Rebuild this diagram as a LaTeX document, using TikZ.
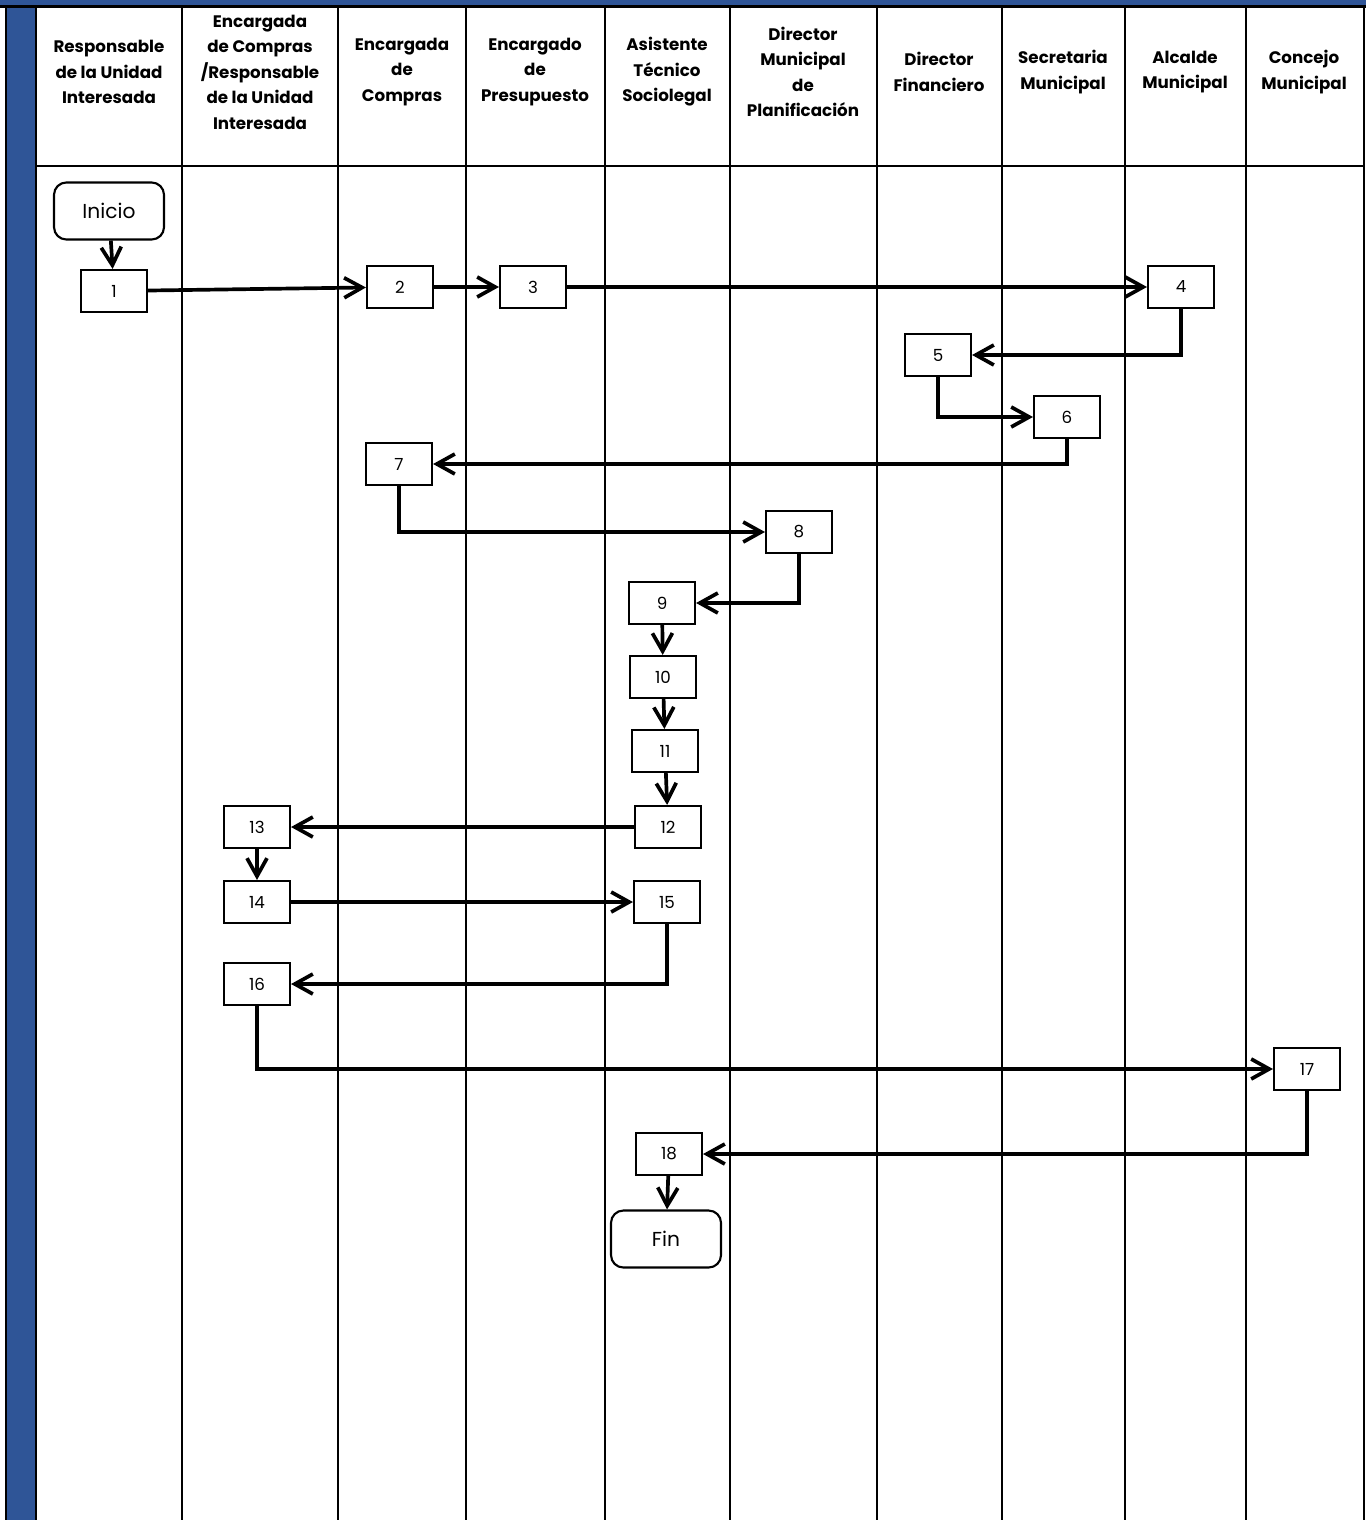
\documentclass[tikz,border=0pt]{standalone}
\usepackage{fontspec}
\setmainfont{Poppins}
\usetikzlibrary{arrows.meta}
\definecolor{laneblue}{RGB}{47,85,151}

\begin{document}
\begin{tikzpicture}[x=0.02cm, y=-0.02cm,
  head/.style={align=center, font=\bfseries\fontsize{9.5}{14.5}\selectfont},
  act/.style={draw, line width=1.2pt, minimum width=1.32cm, minimum height=0.84cm, inner sep=0pt, font=\fontsize{9.5}{11}\selectfont},
  term/.style={draw, rounded corners=7pt, line width=1.2pt, minimum width=2.2cm, minimum height=1.14cm, inner sep=0pt, font=\fontsize{11.5}{13}\selectfont},
  lane/.style={line width=1.2pt},
  arr/.style={-{Straight Barb[length=3.6mm, width=4mm]}, line width=2.1pt}]
\useasboundingbox (0,0) rectangle (1366,1520);
% frame and blue band
\fill[laneblue] (0,0) rectangle (1366,6);
\fill[laneblue] (6,0) rectangle (36,1520);
\draw[lane] (0,6.5) -- (1366,6.5);
\draw[lane] (6,6) -- (6,1520);
\draw[lane] (36,6) -- (36,1520);
\draw[lane] (36,166) -- (1364,166);
\foreach \x in {182,338,466,605,730,877,1002,1125,1246,1364}
  \draw[lane] (\x,6) -- (\x,1520);
% lane headers
\node[head] (h1) at (109,72) {Responsable\\de la Unidad\\Interesada};
\node[head] (h2) at (260,72) {Encargada\\de Compras\\/Responsable\\de la Unidad\\Interesada};
\node[head] (h3) at (402,72) {Encargada\\de\\Compras};
\node[head] (h4) at (535,72) {Encargado\\de\\Presupuesto};
\node[head] (h5) at (667,72) {Asistente\\Técnico\\Sociolegal};
\node[head] (h6) at (803,72) {Director\\Municipal\\de\\Planificación};
\node[head] (h7) at (939,72) {Director\\Financiero};
\node[head] (h8) at (1063,72) {Secretaria\\Municipal};
\node[head] (h9) at (1185,72) {Alcalde\\Municipal};
\node[head] (h10) at (1304,72) {Concejo\\Municipal};
% activities
\node[term] (ini) at (109,211) {Inicio};
\node[act] (n1) at (114,291) {1};
\node[act] (n2) at (400,287) {2};
\node[act] (n3) at (533,287) {3};
\node[act] (n4) at (1181,287) {4};
\node[act] (n5) at (938,355) {5};
\node[act] (n6) at (1067,417) {6};
\node[act] (n7) at (399,464) {7};
\node[act] (n8) at (799,532) {8};
\node[act] (n9) at (662,603) {9};
\node[act] (n10) at (663,677) {10};
\node[act] (n11) at (665,751) {11};
\node[act] (n12) at (668,827) {12};
\node[act] (n13) at (257,827) {13};
\node[act] (n14) at (257,902) {14};
\node[act] (n15) at (667,902) {15};
\node[act] (n16) at (257,984) {16};
\node[act] (n17) at (1307,1069) {17};
\node[act] (n18) at (669,1154) {18};
\node[term] (fin) at (666,1239) {Fin};
% flow
\draw[arr] (ini) -- (n1);
\draw[arr] (n1) -- (n2);
\draw[arr] (n2) -- (n3);
\draw[arr] (n3) -- (n4);
\draw[arr] (n4.south) |- (n5.east);
\draw[arr] (n5.south) |- (n6.west);
\draw[arr] (n6.south) |- (n7.east);
\draw[arr] (n7.south) |- (n8.west);
\draw[arr] (n8.south) |- (n9.east);
\draw[arr] (n9) -- (n10);
\draw[arr] (n10) -- (n11);
\draw[arr] (n11) -- (n12);
\draw[arr] (n12) -- (n13);
\draw[arr] (n13) -- (n14);
\draw[arr] (n14) -- (n15);
\draw[arr] (n15.south) |- (n16.east);
\draw[arr] (n16.south) |- (n17.west);
\draw[arr] (n17.south) |- (n18.east);
\draw[arr] (n18) -- (fin);
\end{tikzpicture}
\end{document}
